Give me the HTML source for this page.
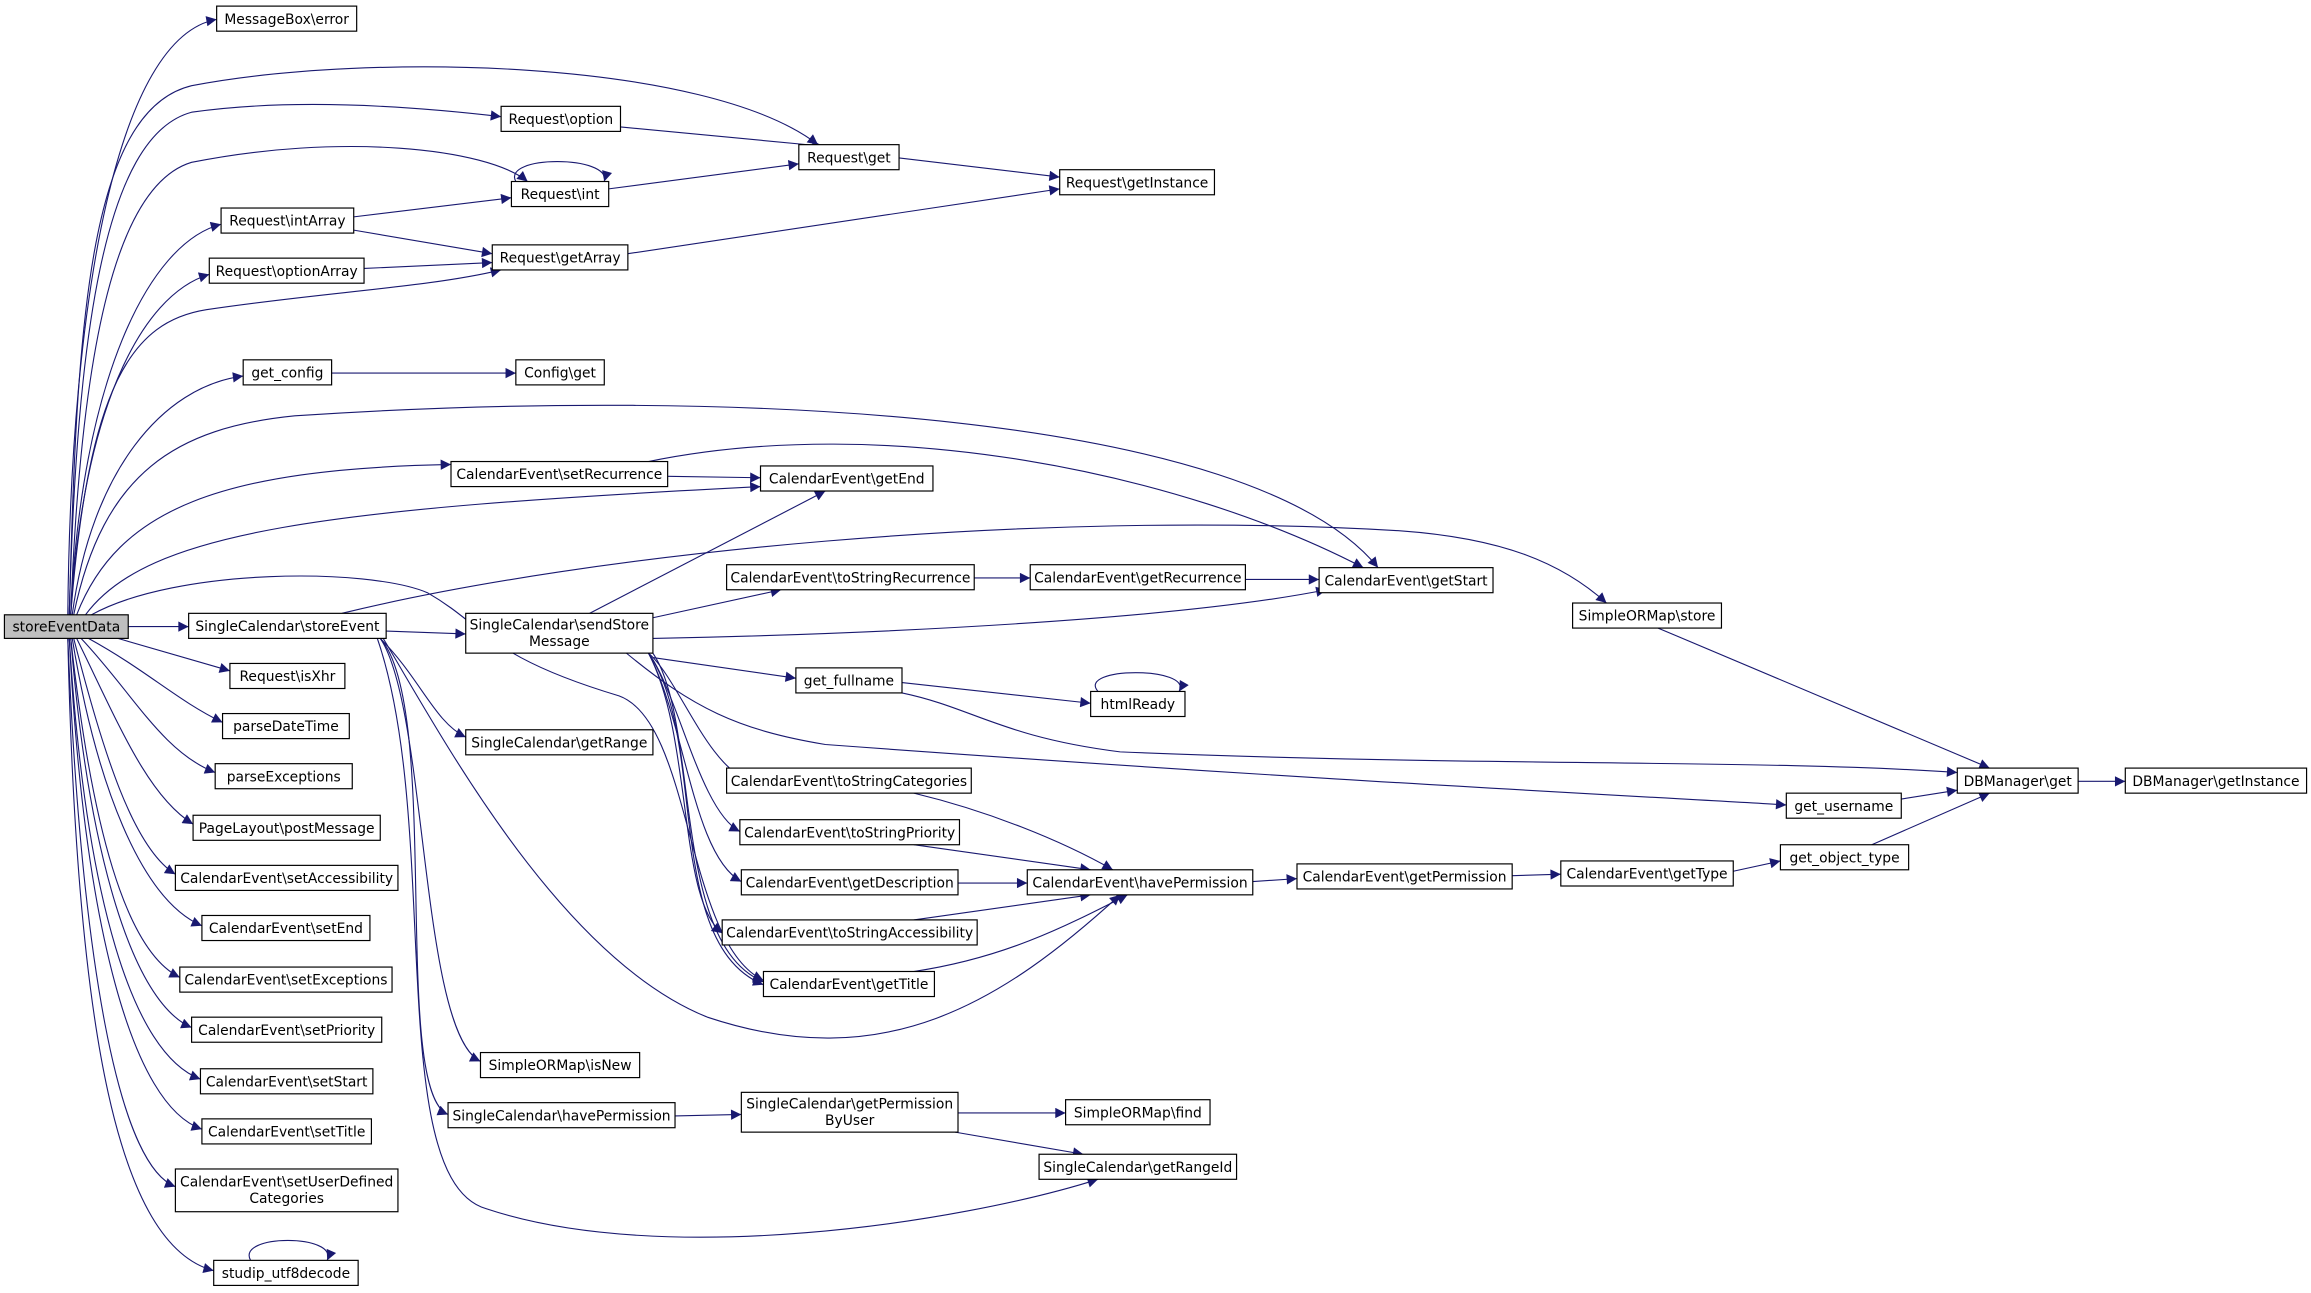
<!DOCTYPE html>
<html><head><meta charset="utf-8"><style>
html,body{margin:0;padding:0;background:#fff;}
svg{display:block}
text{font-family:"DejaVu Sans","Liberation Sans",sans-serif;font-size:9.4px;fill:#000;text-anchor:middle}
.n{fill:#fff;stroke:#000;stroke-width:0.8}
.e{fill:none;stroke:#191970;stroke-width:0.75}
</style></head><body>
<svg width="2311" height="1293" viewBox="0 0 1568 877" xmlns="http://www.w3.org/2000/svg">
<defs><marker id="a" viewBox="0 0 10 10" refX="10" refY="5" markerWidth="9" markerHeight="7" markerUnits="userSpaceOnUse" orient="auto"><path d="M0,0 L10,5 L0,10 z" fill="#191970"/></marker></defs>
<g class="e" marker-end="url(#a)">
<!-- storeEventData top -->
<path d="M46,417 C48,200 80,25 147,13"/>
<path d="M47,417 C52,220 60,75 130,58 C250,35 480,40 555,98"/>
<path d="M47,417 C52,230 70,92 130,76 C200,66 280,72 340,79"/>
<path d="M48,417 C55,230 80,125 130,110 C230,90 330,100 358,123"/>
<path d="M48,417 C55,260 100,165 150,152"/>
<path d="M48,417 C56,280 95,200 142,186"/>
<path d="M48,417 C60,260 90,218 140,210 C220,198 290,195 340,183"/>
<path d="M49,417 C62,320 110,262 165,255"/>
<path d="M50,417 C70,320 120,290 200,282 C500,262 850,280 935,385"/>
<path d="M52,417 C80,345 150,318 306,315"/>
<path d="M58,417 C100,360 220,345 516,330"/>
<path d="M87,425 L128,425"/>
<path d="M62,417 C120,385 250,385 290,402 C330,425 330,445 420,472 C470,490 465,640 518,665"/>
<!-- storeEventData bottom -->
<path d="M80,433 L156,455"/>
<path d="M60,433 C100,455 120,475 151,490"/>
<path d="M55,433 C90,470 110,510 146,524"/>
<path d="M52,433 C80,490 100,540 131,559"/>
<path d="M50,433 C70,510 90,575 119,593"/>
<path d="M49,433 C65,530 95,610 137,628"/>
<path d="M48,433 C62,560 85,645 122,663"/>
<path d="M48,433 C60,580 90,680 130,697"/>
<path d="M47,433 C58,610 90,715 136,732"/>
<path d="M47,433 C57,630 90,750 137,766"/>
<path d="M46,433 C55,650 80,790 119,805"/>
<path d="M46,433 C52,700 80,845 145,862"/>
<!-- storeEvent -->
<path d="M262,428 L316,430"/>
<path d="M232,416 C400,375 700,345 950,360 C1020,365 1060,382 1090,409"/>
<path d="M258,433 C285,460 295,490 316,500"/>
<path d="M258,433 C290,480 285,700 326,720"/>
<path d="M258,433 C300,480 265,740 304,756"/>
<path d="M260,433 C300,500 380,650 480,690 C600,730 680,680 760,607"/>
<path d="M256,433 C300,560 260,800 330,820 C450,860 650,830 745,800"/>
<!-- sendStoreMessage -->
<path d="M400,416 L560,333"/>
<path d="M443,419 L530,400"/>
<path d="M443,433 C600,430 800,420 900,400"/>
<path d="M443,446 L540,460"/>
<path d="M425,443 C470,480 500,495 560,505 C900,530 1150,542 1212,546"/>
<path d="M440,443 C460,460 480,520 508,529"/>
<path d="M440,443 C460,470 475,550 502,564"/>
<path d="M440,443 C465,490 470,580 503,598"/>
<path d="M440,443 C470,500 460,610 490,633"/>
<path d="M440,443 C480,500 450,640 518,668"/>
<path d="M443,443 C475,490 455,640 518,666"/>
<!-- others -->
<path d="M440,313 C600,280 800,320 925,385"/>
<path d="M453,323 L516,324"/>
<path d="M661,392 L699,392"/>
<path d="M845,393 L895,393"/>
<path d="M612,463 L740,477"/>
<path d="M612,470 C660,480 680,500 760,510 C1000,520 1200,515 1328,524"/>
<path d="M1125,426 L1350,521"/>
<path d="M1290,542 L1328,536"/>
<path d="M1270,573 L1350,538"/>
<path d="M1410,530 L1442,530"/>
<path d="M620,538 C670,550 720,570 755,590"/>
<path d="M620,573 L740,590"/>
<path d="M650,599 L697,599"/>
<path d="M620,624 L740,607"/>
<path d="M620,659 C680,650 720,630 765,607"/>
<path d="M850,598 L880,596"/>
<path d="M1026,594 L1059,593"/>
<path d="M1176,591 L1208,584"/>
<path d="M458,757 L503,756"/>
<path d="M650,755 L723,755"/>
<path d="M648,768 L735,783"/>
<path d="M421,86 L558,99"/>
<path d="M413,128 L542,111"/>
<path d="M610,107 L719,120"/>
<path d="M240,147 L347,134"/>
<path d="M240,156 L334,172"/>
<path d="M247,182 L334,178"/>
<path d="M426,172 L719,128"/>
<path d="M225,253 L350,253"/>
<path d="M350,123 C340,105 415,105 410,123"/>
<path d="M745,469 C730,452 810,452 800,469"/>
<path d="M170,855 C160,837 230,837 222,855"/>
</g>
<g>
<rect class="n" x="3" y="417" width="84" height="16" style="fill:#bfbfbf"/><text x="45" y="428.5">storeEventData</text>
<rect class="n" x="147" y="4" width="95" height="17"/><text x="194.5" y="16">MessageBox\error</text>
<rect class="n" x="340" y="72" width="81" height="17"/><text x="380.5" y="84">Request\option</text>
<rect class="n" x="542" y="98" width="68" height="17"/><text x="576" y="110">Request\get</text>
<rect class="n" x="719" y="115" width="105" height="17"/><text x="771.5" y="127">Request\getInstance</text>
<rect class="n" x="347" y="123" width="66" height="17"/><text x="380" y="135">Request\int</text>
<rect class="n" x="150" y="141" width="90" height="17"/><text x="195" y="153">Request\intArray</text>
<rect class="n" x="142" y="175" width="105" height="17"/><text x="194.5" y="187">Request\optionArray</text>
<rect class="n" x="334" y="166" width="92" height="17"/><text x="380" y="178">Request\getArray</text>
<rect class="n" x="165" y="244" width="60" height="17"/><text x="195" y="256">get_config</text>
<rect class="n" x="350" y="244" width="60" height="17"/><text x="380" y="256">Config\get</text>
<rect class="n" x="306" y="313" width="147" height="17"/><text x="379.5" y="325">CalendarEvent\setRecurrence</text>
<rect class="n" x="516" y="316" width="117" height="17"/><text x="574.5" y="328">CalendarEvent\getEnd</text>
<rect class="n" x="493" y="383" width="168" height="17"/><text x="577" y="395">CalendarEvent\toStringRecurrence</text>
<rect class="n" x="699" y="383" width="146" height="17"/><text x="772" y="395">CalendarEvent\getRecurrence</text>
<rect class="n" x="895" y="385" width="118" height="17"/><text x="954" y="397">CalendarEvent\getStart</text>
<rect class="n" x="1067" y="409" width="101" height="17"/><text x="1117.5" y="421">SimpleORMap\store</text>
<rect class="n" x="128" y="416" width="134" height="17"/><text x="195" y="428">SingleCalendar\storeEvent</text>
<rect class="n" x="316" y="416" width="127" height="27"/><text x="379.5" y="427">SingleCalendar\sendStore</text><text x="379.5" y="438">Message</text>
<rect class="n" x="156" y="450" width="78" height="17"/><text x="195" y="462">Request\isXhr</text>
<rect class="n" x="540" y="453" width="72" height="17"/><text x="576" y="465">get_fullname</text>
<rect class="n" x="740" y="469" width="64" height="17"/><text x="772" y="481">htmlReady</text>
<rect class="n" x="151" y="484" width="86" height="17"/><text x="194" y="496">parseDateTime</text>
<rect class="n" x="316" y="495" width="127" height="17"/><text x="379.5" y="507">SingleCalendar\getRange</text>
<rect class="n" x="146" y="518" width="93" height="17"/><text x="192.5" y="530">parseExceptions</text>
<rect class="n" x="493" y="521" width="166" height="17"/><text x="576" y="533">CalendarEvent\toStringCategories</text>
<rect class="n" x="1328" y="521" width="82" height="17"/><text x="1369" y="533">DBManager\get</text>
<rect class="n" x="1442" y="521" width="123" height="17"/><text x="1503.5" y="533">DBManager\getInstance</text>
<rect class="n" x="1212" y="538" width="78" height="17"/><text x="1251" y="550">get_username</text>
<rect class="n" x="131" y="553" width="127" height="17"/><text x="194.5" y="565">PageLayout\postMessage</text>
<rect class="n" x="502" y="556" width="149" height="17"/><text x="576.5" y="568">CalendarEvent\toStringPriority</text>
<rect class="n" x="1208" y="573" width="87" height="17"/><text x="1251.5" y="585">get_object_type</text>
<rect class="n" x="1059" y="584" width="117" height="17"/><text x="1117.5" y="596">CalendarEvent\getType</text>
<rect class="n" x="880" y="586" width="146" height="17"/><text x="953" y="598">CalendarEvent\getPermission</text>
<rect class="n" x="119" y="587" width="151" height="17"/><text x="194.5" y="599">CalendarEvent\setAccessibility</text>
<rect class="n" x="503" y="590" width="147" height="17"/><text x="576.5" y="602">CalendarEvent\getDescription</text>
<rect class="n" x="697" y="590" width="153" height="17"/><text x="773.5" y="602">CalendarEvent\havePermission</text>
<rect class="n" x="137" y="621" width="114" height="17"/><text x="194" y="633">CalendarEvent\setEnd</text>
<rect class="n" x="490" y="624" width="173" height="17"/><text x="576.5" y="636">CalendarEvent\toStringAccessibility</text>
<rect class="n" x="518" y="659" width="116" height="17"/><text x="576" y="671">CalendarEvent\getTitle</text>
<rect class="n" x="122" y="656" width="144" height="17"/><text x="194" y="668">CalendarEvent\setExceptions</text>
<rect class="n" x="130" y="690" width="129" height="17"/><text x="194.5" y="702">CalendarEvent\setPriority</text>
<rect class="n" x="326" y="714" width="108" height="17"/><text x="380" y="726">SimpleORMap\isNew</text>
<rect class="n" x="136" y="725" width="117" height="17"/><text x="194.5" y="737">CalendarEvent\setStart</text>
<rect class="n" x="503" y="741" width="147" height="27"/><text x="576.5" y="752">SingleCalendar\getPermission</text><text x="576.5" y="763">ByUser</text>
<rect class="n" x="723" y="746" width="98" height="17"/><text x="772" y="758">SimpleORMap\find</text>
<rect class="n" x="304" y="748" width="154" height="17"/><text x="381" y="760">SingleCalendar\havePermission</text>
<rect class="n" x="137" y="759" width="115" height="17"/><text x="194.5" y="771">CalendarEvent\setTitle</text>
<rect class="n" x="705" y="783" width="134" height="17"/><text x="772" y="795">SingleCalendar\getRangeId</text>
<rect class="n" x="119" y="793" width="151" height="29"/><text x="194.5" y="805">CalendarEvent\setUserDefined</text><text x="194.5" y="816">Categories</text>
<rect class="n" x="145" y="855" width="98" height="17"/><text x="194" y="867">studip_utf8decode</text>
</g>
</svg>
</body></html>
